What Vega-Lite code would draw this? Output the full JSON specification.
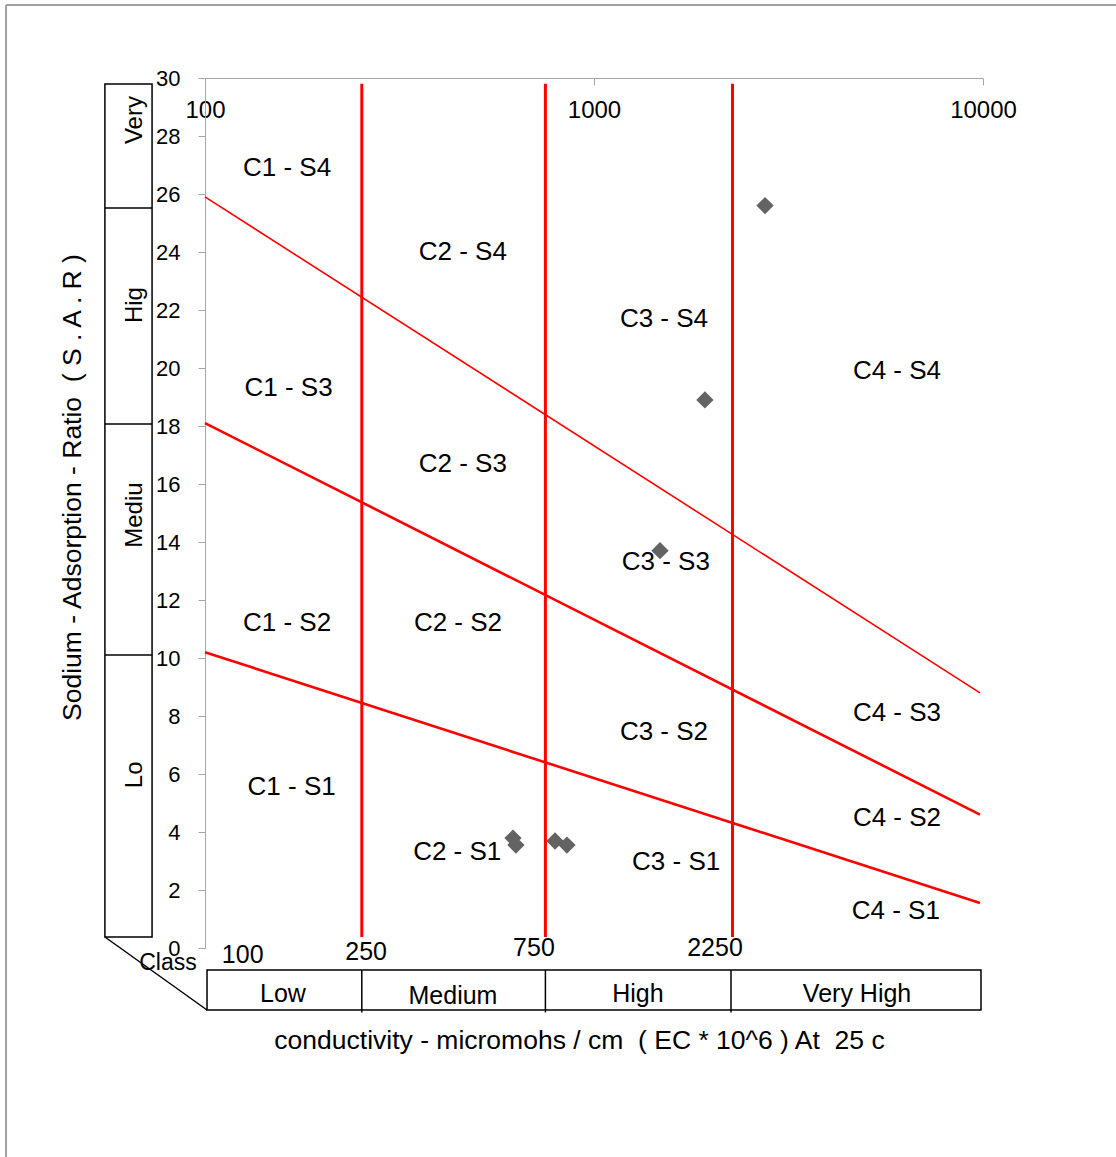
{
  "$schema": "https://vega.github.io/schema/vega-lite/v6.json",
  "autosize": {"type": "none"},
  "padding": {"left": 205, "top": 78, "right": 133, "bottom": 209},
  "width": 778,
  "height": 870,
  "background": "white",
  "config": {
    "view": {"stroke": null},
    "font": "Liberation Sans",
    "text": {"font": "Liberation Sans", "color": "black"}
  },
  "datasets": {
    "frame": [
      {"kind": "border", "ec": 30.8, "ec2": 40000, "sar": 32.52, "sar2": 32.52},
      {"kind": "border", "ec": 30.8, "ec2": 30.8, "sar": 32.52, "sar2": -12},
      {"kind": "table", "ec": 55.3, "ec2": 73.1, "sar": 25.52, "sar2": 25.52},
      {"kind": "table", "ec": 55.3, "ec2": 73.1, "sar": 18.07, "sar2": 18.07},
      {"kind": "table", "ec": 55.3, "ec2": 73.1, "sar": 10.1, "sar2": 10.1},
      {"kind": "table", "ec": 55.3, "ec2": 101.2, "sar": 0.379, "sar2": -2.138},
      {"kind": "table", "ec": 253, "ec2": 253, "sar": -0.759, "sar2": -2.22},
      {"kind": "table", "ec": 750, "ec2": 750, "sar": -0.759, "sar2": -2.22},
      {"kind": "table", "ec": 2250, "ec2": 2250, "sar": -0.759, "sar2": -2.22}
    ],
    "boxes": [
      {"ec": 55.3, "ec2": 73.1, "sar": 0.379, "sar2": 29.79},
      {"ec": 101.2, "ec2": 9882, "sar": -0.759, "sar2": -2.138}
    ],
    "ecLimits": [
      {"ec": 253, "sar": 0.38, "sar2": 29.8},
      {"ec": 750, "sar": 0.38, "sar2": 29.8},
      {"ec": 2270, "sar": 0.38, "sar2": 29.8}
    ],
    "sarLines": [
      {"series": "S3-S4", "ec": 100, "sar": 25.9},
      {"series": "S3-S4", "ec": 9824, "sar": 8.8},
      {"series": "S2-S3", "ec": 100, "sar": 18.1},
      {"series": "S2-S3", "ec": 9824, "sar": 4.6},
      {"series": "S1-S2", "ec": 100, "sar": 10.2},
      {"series": "S1-S2", "ec": 9824, "sar": 1.55}
    ],
    "samples": [
      {"ec": 2752, "sar": 25.6},
      {"ec": 1928, "sar": 18.9},
      {"ec": 1478, "sar": 13.7},
      {"ec": 619, "sar": 3.79},
      {"ec": 630, "sar": 3.55},
      {"ec": 794, "sar": 3.69},
      {"ec": 852, "sar": 3.55}
    ],
    "zones": [
      {"label": "C1 - S4", "ec": 162.5, "sar": 26.9},
      {"label": "C2 - S4", "ec": 460, "sar": 24.0},
      {"label": "C3 - S4", "ec": 1513, "sar": 21.7},
      {"label": "C4 - S4", "ec": 6010, "sar": 19.9},
      {"label": "C1 - S3", "ec": 164, "sar": 19.3},
      {"label": "C2 - S3", "ec": 460, "sar": 16.7},
      {"label": "C3 - S3", "ec": 1530, "sar": 13.3},
      {"label": "C4 - S3", "ec": 6010, "sar": 8.1},
      {"label": "C1 - S2", "ec": 162.5, "sar": 11.2},
      {"label": "C2 - S2", "ec": 447, "sar": 11.2},
      {"label": "C3 - S2", "ec": 1513, "sar": 7.45},
      {"label": "C4 - S2", "ec": 6010, "sar": 4.5},
      {"label": "C1 - S1", "ec": 167, "sar": 5.55},
      {"label": "C2 - S1", "ec": 445, "sar": 3.3},
      {"label": "C3 - S1", "ec": 1626, "sar": 2.97},
      {"label": "C4 - S1", "ec": 5970, "sar": 1.28}
    ],
    "sarClasses": [
      {"label": "Very", "ec": 66.1, "sar": 28.55},
      {"label": "Hig", "ec": 66.1, "sar": 22.17},
      {"label": "Mediu", "ec": 66.1, "sar": 14.93},
      {"label": "Lo", "ec": 66.1, "sar": 5.97}
    ],
    "ecClasses": [
      {"label": "Low", "ec": 158.6, "sar": -1.586},
      {"label": "Medium", "ec": 434, "sar": -1.655},
      {"label": "High", "ec": 1297, "sar": -1.586},
      {"label": "Very High", "ec": 4745, "sar": -1.586},
      {"label": "100", "ec": 125, "sar": -0.24},
      {"label": "250", "ec": 259.5, "sar": -0.14},
      {"label": "750", "ec": 701, "sar": 0.0},
      {"label": "2250", "ec": 2047, "sar": 0.0}
    ],
    "classWord": [
      {"label": "Class", "ec": 80.3, "sar": -0.52}
    ]
  },
  "encoding": {
    "x": {
      "field": "ec",
      "type": "quantitative",
      "scale": {"type": "log", "domain": [100, 10000], "nice": false},
      "axis": {
        "orient": "top",
        "values": [100, 1000, 10000],
        "format": "d",
        "grid": false,
        "tickSize": -7,
        "labelPadding": -32,
        "labelBaseline": "alphabetic",
        "labelFontSize": 24,
        "labelFont": "Liberation Sans",
        "labelColor": "black",
        "labelFlush": false,
        "labelOverlap": false,
        "domainColor": "#a6a6a6",
        "tickColor": "#a6a6a6",
        "title": "conductivity - micromohs / cm \u00a0( EC * 10^6 ) At \u00a025 c",
        "titleFont": "Liberation Sans",
        "titleFontSize": 26.5,
        "titleFontWeight": "normal",
        "titleColor": "black",
        "titleX": 374,
        "titleY": 962,
        "titleAngle": 0,
        "titleAlign": "center",
        "titleBaseline": "middle"
      }
    },
    "y": {
      "field": "sar",
      "type": "quantitative",
      "scale": {"domain": [0, 30], "nice": false, "zero": false},
      "axis": {
        "orient": "left",
        "values": [0, 2, 4, 6, 8, 10, 12, 14, 16, 18, 20, 22, 24, 26, 28, 30],
        "grid": false,
        "tickSize": 7,
        "labelPadding": 18,
        "labelFontSize": 22,
        "labelFont": "Liberation Sans",
        "labelColor": "black",
        "labelFlush": false,
        "labelOverlap": false,
        "domainColor": "#a6a6a6",
        "tickColor": "#a6a6a6",
        "title": "Sodium - Adsorption - Ratio \u00a0( S . A . R )",
        "titleFont": "Liberation Sans",
        "titleFontSize": 26.5,
        "titleFontWeight": "normal",
        "titleColor": "black",
        "titleX": -133,
        "titleY": 409,
        "titleAngle": -90,
        "titleAlign": "center",
        "titleBaseline": "middle"
      }
    }
  },
  "layer": [
    {
      "data": {"name": "frame"},
      "transform": [{"filter": "datum.kind === 'border'"}],
      "mark": {"type": "rule", "color": "#a0a0a0", "strokeWidth": 2},
      "encoding": {"x2": {"field": "ec2"}, "y2": {"field": "sar2"}}
    },
    {
      "data": {"name": "frame"},
      "transform": [{"filter": "datum.kind === 'table'"}],
      "mark": {"type": "rule", "color": "black", "strokeWidth": 1.5},
      "encoding": {"x2": {"field": "ec2"}, "y2": {"field": "sar2"}}
    },
    {
      "data": {"name": "boxes"},
      "mark": {"type": "rect", "fill": "transparent", "stroke": "black", "strokeWidth": 1.5},
      "encoding": {"x2": {"field": "ec2"}, "y2": {"field": "sar2"}}
    },
    {
      "data": {"name": "ecLimits"},
      "mark": {"type": "rule", "color": "#ff0000", "strokeWidth": 3},
      "encoding": {"y2": {"field": "sar2"}}
    },
    {
      "data": {"name": "sarLines"},
      "transform": [{"filter": "datum.series === 'S3-S4'"}],
      "mark": {"type": "line", "color": "#ff0000", "strokeWidth": 1.6},
      "encoding": {"detail": {"field": "series"}}
    },
    {
      "data": {"name": "sarLines"},
      "transform": [{"filter": "datum.series !== 'S3-S4'"}],
      "mark": {"type": "line", "color": "#ff0000", "strokeWidth": 2.6},
      "encoding": {"detail": {"field": "series"}}
    },
    {
      "data": {"name": "samples"},
      "mark": {"type": "point", "shape": "diamond", "filled": true, "color": "#636363", "opacity": 1, "size": 300},
      "encoding": {}
    },
    {
      "data": {"name": "zones"},
      "mark": {"type": "text", "fontSize": 26, "align": "center", "baseline": "middle"},
      "encoding": {"text": {"field": "label"}}
    },
    {
      "data": {"name": "sarClasses"},
      "mark": {"type": "text", "fontSize": 24, "align": "center", "baseline": "middle", "angle": 270},
      "encoding": {"text": {"field": "label"}}
    },
    {
      "data": {"name": "ecClasses"},
      "mark": {"type": "text", "fontSize": 25, "align": "center", "baseline": "middle"},
      "encoding": {"text": {"field": "label"}}
    },
    {
      "data": {"name": "classWord"},
      "mark": {"type": "text", "fontSize": 23, "align": "center", "baseline": "middle"},
      "encoding": {"text": {"field": "label"}}
    }
  ]
}
